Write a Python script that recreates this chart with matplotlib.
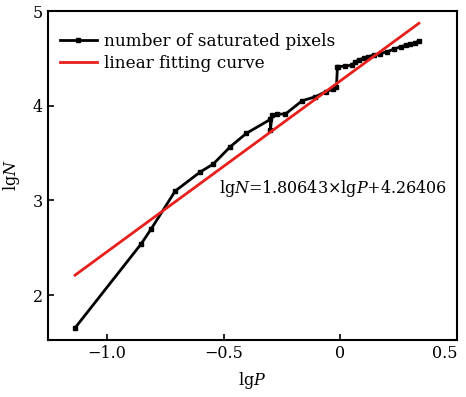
import matplotlib
matplotlib.use("Agg")
import matplotlib.pyplot as plt
import numpy as np

plt.rcParams["font.family"] = ["DejaVu Serif"]
plt.rcParams["mathtext.fontset"] = "dejavuserif"

# lgP / lgN
lg_p = [-1.137, -0.854, -0.811, -0.708, -0.601, -0.545, -0.472, -0.403,
        -0.300, -0.300, -0.293, -0.272, -0.236, -0.164, -0.107, -0.064,
        -0.030, -0.017, -0.013, -0.009, 0.020, 0.050, 0.064, 0.080, 0.099,
        0.120, 0.142, 0.170, 0.200, 0.230, 0.258, 0.280, 0.300, 0.320, 0.336]
lg_n = [1.653, 2.540, 2.698, 3.099, 3.300, 3.384, 3.567, 3.709,
        3.856, 3.743, 3.902, 3.912, 3.912, 4.053, 4.095, 4.148,
        4.176, 4.201, 4.412, 4.412, 4.420, 4.430, 4.465, 4.485, 4.504,
        4.520, 4.535, 4.552, 4.570, 4.600, 4.623, 4.640, 4.652, 4.668, 4.683]

slope = 1.80643
intercept = 4.26406

fig = plt.figure(figsize=(4.66, 3.97), dpi=100)
ax = fig.add_axes([0.103, 0.1436, 0.878, 0.8284])

ax.plot(lg_p, lg_n, color="black", linewidth=2, marker="s", markersize=3,
        label="number of saturated pixels")
x_fit = np.array([min(lg_p), max(lg_p)])
ax.plot(x_fit, slope * x_fit + intercept, color="#e8201c", linewidth=2,
        label="linear fitting curve")

ax.text(-0.03, 3.13, "lg$N$=1.80643×lg$P$+4.26406", fontsize=11.5,
        ha="center", va="center")

ax.set_xlim(-1.253, 0.5)
ax.set_ylim(1.525, 5)
ax.set_xticks([-1.0, -0.5, 0, 0.5])
ax.set_xticklabels(["\u22121.0", "\u22120.5", "0", "0.5"])
ax.set_yticks([2, 3, 4, 5])
ax.tick_params(direction="in", length=4, width=1.2, labelsize=11.5)
for s in ax.spines.values():
    s.set_linewidth(1.5)
# keep the last x label inside the picture
ax.get_xticklabels()[-1].set_horizontalalignment("right")

ax.set_xlabel("lg$P$", fontsize=11.5, labelpad=6)
ax.set_ylabel("lg$N$", fontsize=11.5, labelpad=8)

ax.legend(loc="upper left", bbox_to_anchor=(0.0, 0.97), frameon=False,
          fontsize=12.2, handlelength=2.2, handletextpad=0.4,
          labelspacing=0.28, borderpad=0.2)

fig.savefig("out.png", dpi=100, facecolor="white")
